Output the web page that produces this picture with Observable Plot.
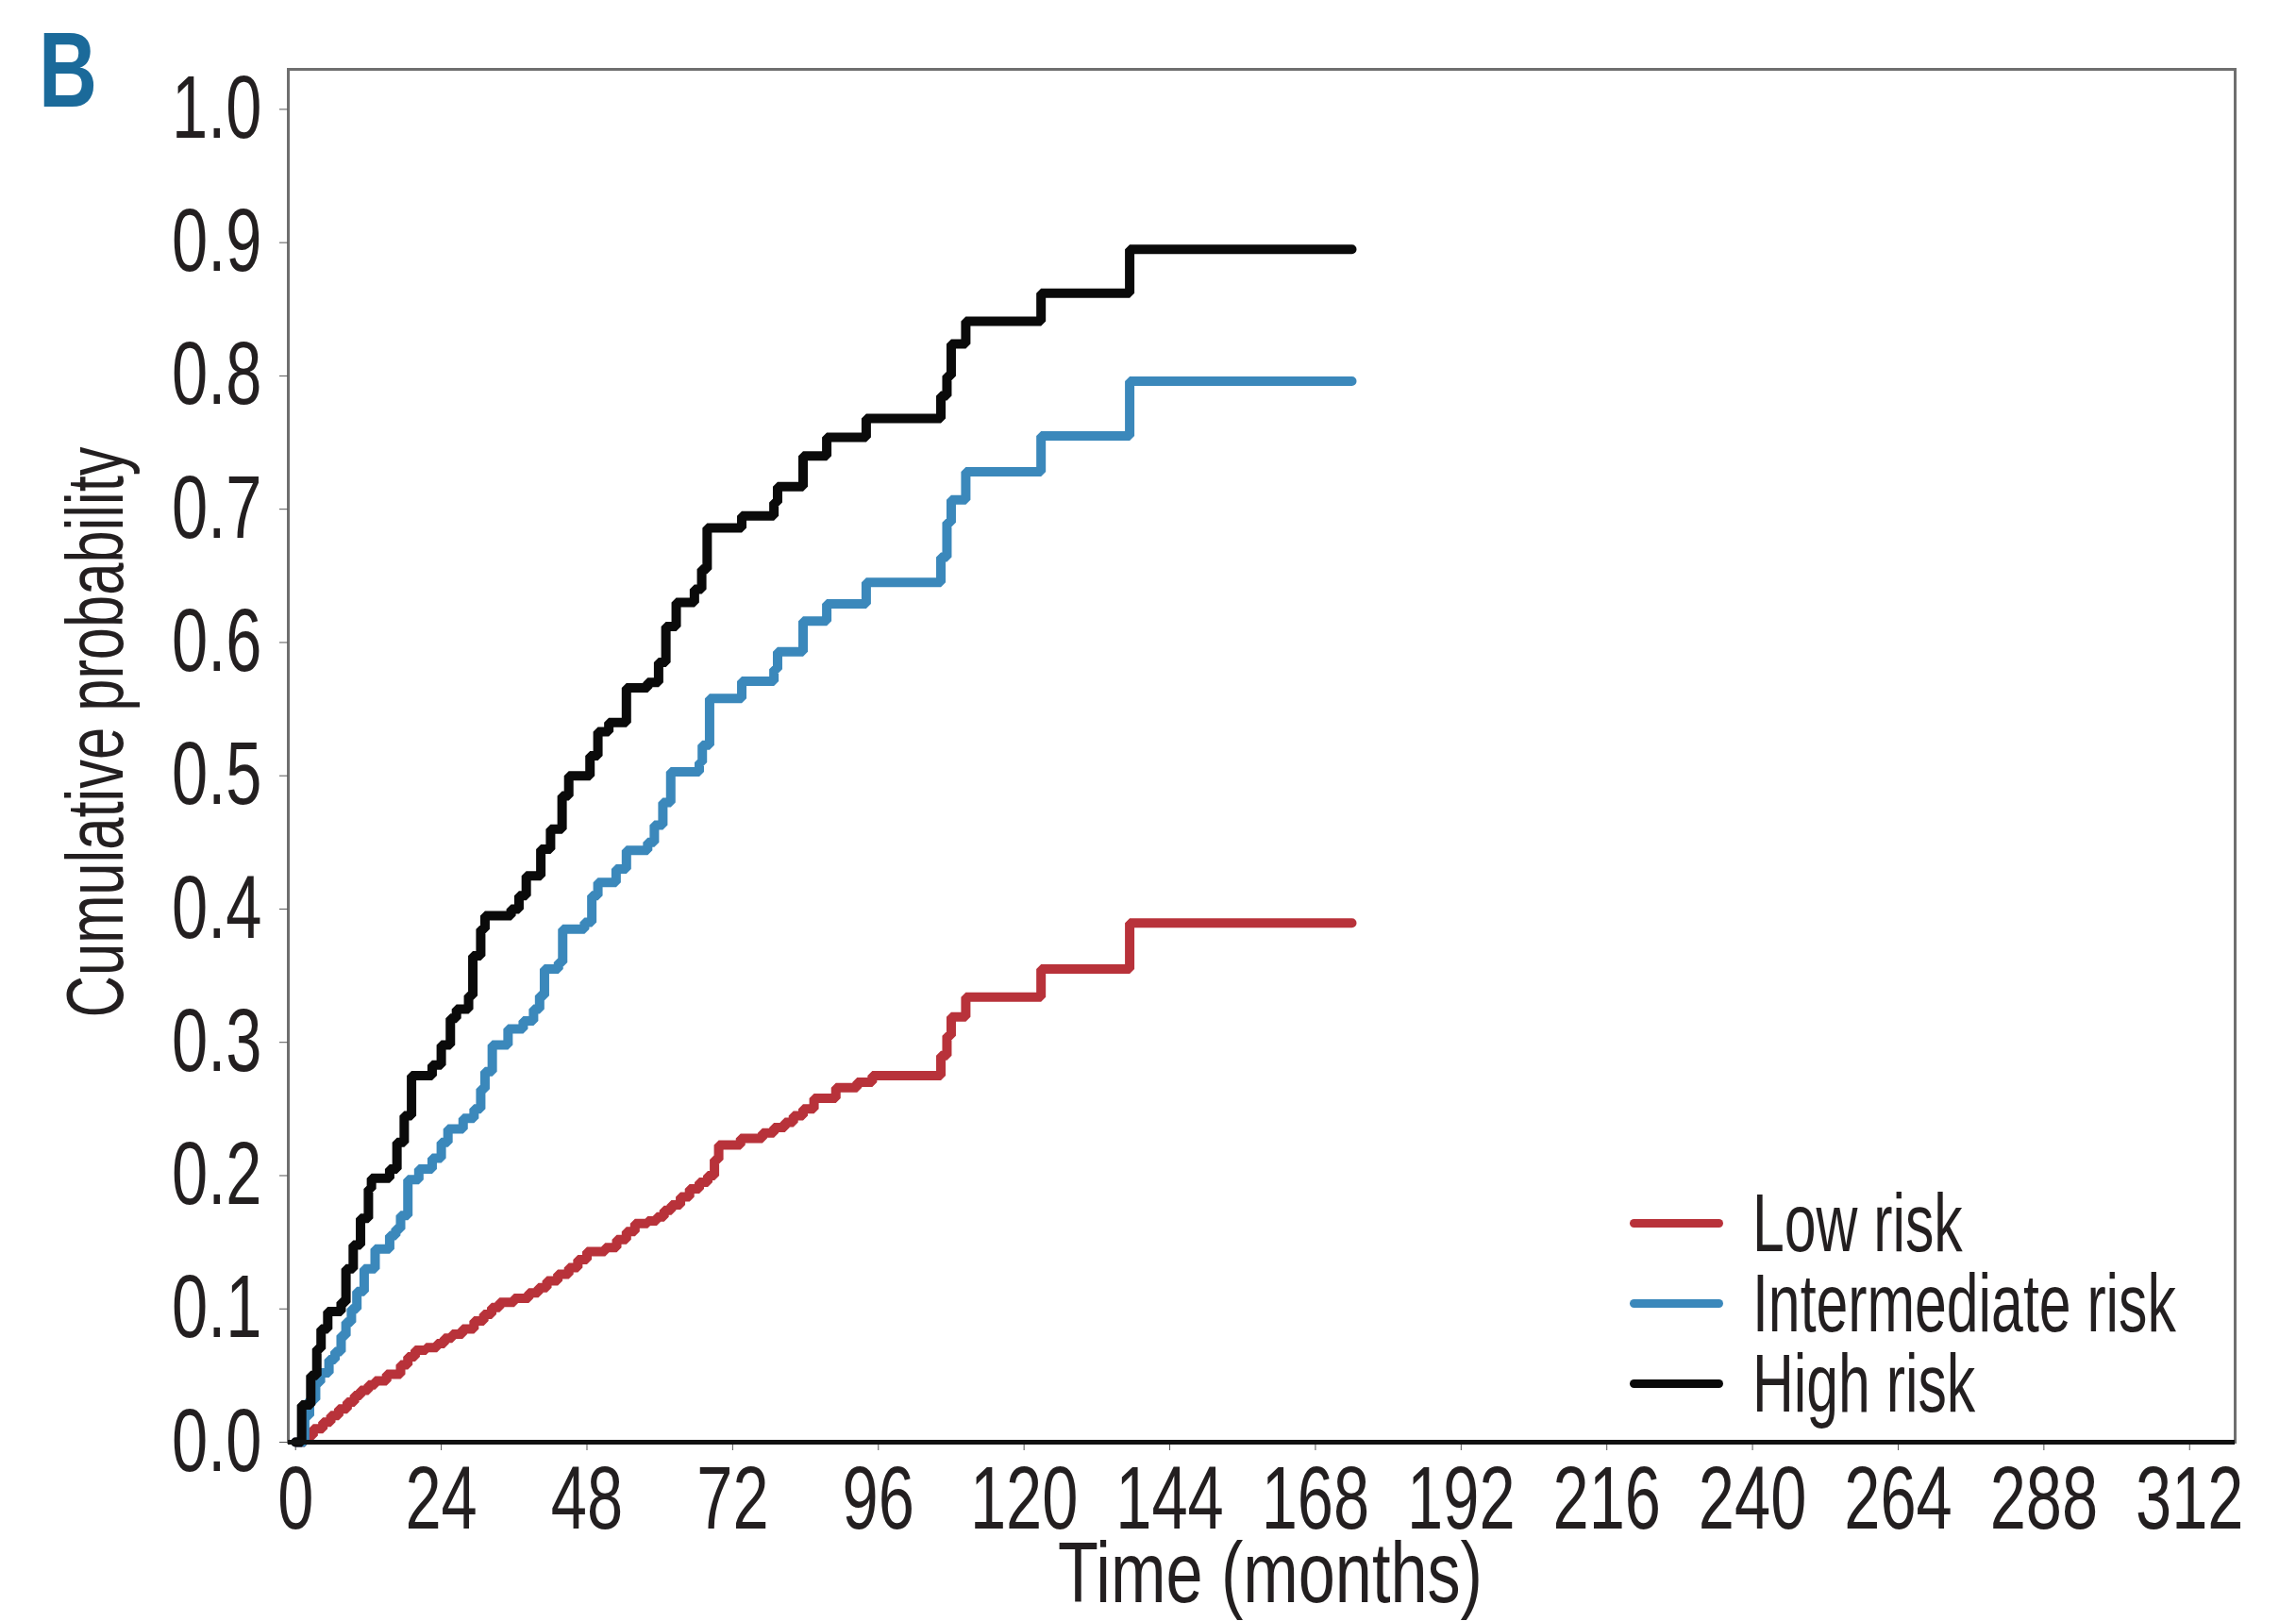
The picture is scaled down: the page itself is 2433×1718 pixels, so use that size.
<!DOCTYPE html>
<html><head><meta charset="utf-8">
<script src="https://cdn.jsdelivr.net/npm/d3@7"></script>
<script src="https://cdn.jsdelivr.net/npm/@observablehq/plot@0.6"></script>
<style>
html,body{margin:0;padding:0;background:#fff;}
#wrap{position:relative;width:2433px;height:1718px;overflow:hidden;font-family:"Liberation Sans",Arial,sans-serif;color:#231f20;}
#wrap svg{position:absolute;left:0;top:0;}
.ov{position:absolute;white-space:nowrap;line-height:1;}
#panel{left:41px;top:18px;font-size:113px;font-weight:bold;color:#1b6a9a;transform:scaleX(0.76);transform-origin:0 50%;}
#xt{left:1346px;top:1622px;font-size:90px;line-height:1;transform:translateX(-50%) scaleX(0.78);}
#yt{left:100px;top:776px;font-size:86px;transform:translate(-50%,-50%) rotate(-90deg) scaleX(0.715);}
.lg{position:absolute;left:1727px;height:85px;display:flex;align-items:center;font-size:88px;white-space:nowrap;}
.lg span{display:inline-block;transform:scaleX(0.69);transform-origin:0 50%;line-height:0.9;}
.sw{width:99px;height:9px;border-radius:4.5px;margin-right:31px;flex:none;}
</style></head><body><div id="wrap"></div><script>
// Low risk
const lowTime = [0,1.5,2.9,4.5,5.8,7.1,8.5,9.7,10.7,12,13.1,15,17.3,18.5,19.7,21.5,23.3,24.5,25.8,27.5,29.4,31,32.3,33.6,36,38.4,40,41.4,43.2,45,46.5,48,51,52.9,54.5,55.9,58,59.5,60.7,61.9,63.4,64.9,66.5,67.9,69,69.7,73.3,76.9,78.8,80.6,82,83.6,85.4,89,92.5,95,106.3,107.3,108,110.4,122.8,137.4,174];
const lowProb = [0,0.005,0.01,0.015,0.02,0.025,0.03,0.035,0.039,0.043,0.046,0.051,0.058,0.064,0.069,0.071,0.074,0.078,0.081,0.085,0.091,0.096,0.101,0.105,0.108,0.112,0.116,0.121,0.126,0.131,0.137,0.143,0.146,0.152,0.158,0.164,0.166,0.169,0.174,0.178,0.184,0.19,0.195,0.2,0.212,0.223,0.228,0.232,0.236,0.24,0.245,0.25,0.258,0.266,0.27,0.275,0.29,0.305,0.319,0.334,0.355,0.3895,0.3895];
// Intermediate risk
const intTime = [0,1.5,2.3,3.3,4.1,5.5,6.5,7.5,8.3,9.2,10.1,11.3,13.1,15.5,16.5,17.3,18.5,20.3,22.5,24,25.1,27.6,29.4,30.5,31.2,32.4,35,37.5,39.2,40.2,41,43.3,44,47.6,48.8,49.8,52.8,54.5,58,59.1,60.5,61.8,66.5,67,68.2,73.5,78.8,79.4,83.6,87.5,94,106.3,107.3,108,110.4,122.8,137.4,174];
const intProb = [0,0.02,0.032,0.045,0.052,0.062,0.068,0.08,0.09,0.1,0.113,0.13,0.145,0.155,0.16,0.17,0.197,0.205,0.213,0.225,0.235,0.243,0.25,0.265,0.278,0.298,0.31,0.316,0.325,0.335,0.355,0.36,0.385,0.39,0.41,0.42,0.43,0.444,0.45,0.463,0.48,0.503,0.51,0.523,0.558,0.571,0.58,0.593,0.616,0.629,0.645,0.664,0.69,0.707,0.728,0.755,0.796,0.796];
// High risk
const highTime = [0,1,2.5,3.5,4.2,5.3,7.5,8.3,9.5,10.7,12,12.5,15.5,16.7,17.9,19.1,22.5,24,25.5,26.5,28.5,29.2,30.5,31.2,35.5,36.8,38,40.4,42,43.9,45,48.5,49.8,51.6,54.5,58,59.8,61,62.7,65.7,66.9,67.8,73.5,78.8,79.4,83.6,87.5,94,106.3,107.3,108,110.4,122.8,137.4,174];
const highProb = [0,0.028,0.05,0.07,0.085,0.098,0.105,0.13,0.148,0.168,0.19,0.198,0.205,0.225,0.245,0.275,0.283,0.298,0.318,0.325,0.335,0.365,0.385,0.395,0.4,0.41,0.425,0.445,0.46,0.485,0.5,0.515,0.533,0.54,0.566,0.57,0.585,0.612,0.63,0.64,0.655,0.686,0.695,0.705,0.717,0.74,0.754,0.768,0.785,0.8,0.824,0.841,0.862,0.895,0.895];

const seriesNames = ["Low risk","Intermediate risk","High risk"];
const seriesColors = ["#b8323a","#3b88bb","#0a0a0a"];
const xTicks = [0,24,48,72,96,120,144,168,192,216,240,264,288,312];
const yTicks = [0,0.1,0.2,0.3,0.4,0.5,0.6,0.7,0.8,0.9,1.0];

const seriesT = [lowTime,intTime,highTime];
const seriesP = [lowProb,intProb,highProb];
const rows = [];
seriesNames.forEach((name,i)=>{
  seriesT[i].forEach((t,j)=>rows.push({group:name,t,p:seriesP[i][j]}));
});

const chart = Plot.plot({
  width: 2433, height: 1718,
  marginLeft: 305, marginRight: 65, marginTop: 73, marginBottom: 190,
  style: {fontSize: "94px", fontFamily: '"Liberation Sans",Arial,sans-serif', color: "#231f20", background: "transparent"},
  x: {domain: [-1.2, 319.5]},
  y: {domain: [0, 1.03]},
  color: {domain: seriesNames, range: seriesColors},
  marks: [
    Plot.frame({stroke: "#6f6f6f", strokeWidth: 3}),
    Plot.axisY(yTicks, {tickFormat: d => d.toFixed(1), tickSize: 9, tickPadding: 19, stroke: "#555", label: null}),
    Plot.axisX(xTicks, {tickFormat: d => String(d), tickSize: 9, tickPadding: 16, stroke: "#555", label: null}),
    Plot.line(rows, {x: "t", y: "p", z: "group", stroke: "group", curve: "step-after", strokeWidth: 10, strokeLinejoin: "miter", strokeLinecap: "round"}),
    Plot.ruleY([0], {stroke: "#111", strokeWidth: 5})
  ]
});
// condense the SVG text (the reference uses a condensed face)
const SX = 0.73;
chart.querySelectorAll("text").forEach(t => {
  const x = +t.getAttribute("x") || 0, y = +t.getAttribute("y") || 0;
  const tr = t.getAttribute("transform") || "";
  t.setAttribute("transform", `${tr} translate(${x},${y}) scale(${SX},1) translate(${-x},${-y})`);
});
const wrap = document.getElementById("wrap");
wrap.appendChild(chart);

function ov(id, txt){ const d=document.createElement("div"); d.className="ov"; d.id=id; d.textContent=txt; wrap.appendChild(d); }
ov("panel","B");
ov("xt","Time (months)");
ov("yt","Cumulative probability");
const centers = [1296,1381,1466];
seriesNames.forEach((name,i)=>{
  const r=document.createElement("div"); r.className="lg"; r.style.top=(centers[i]-42.5)+"px";
  const s=document.createElement("div"); s.className="sw"; s.style.background=seriesColors[i];
  const t=document.createElement("span"); t.textContent=name;
  r.appendChild(s); r.appendChild(t); wrap.appendChild(r);
});
</script></body></html>
